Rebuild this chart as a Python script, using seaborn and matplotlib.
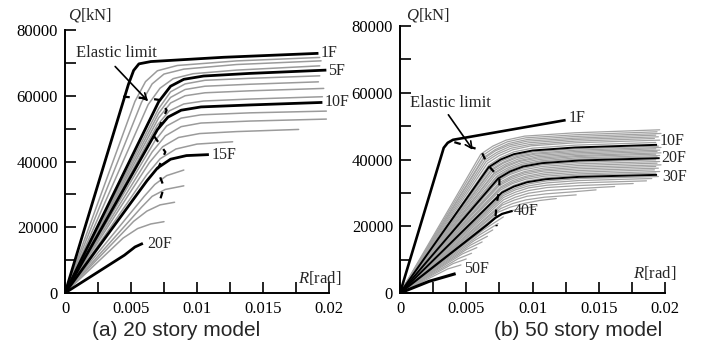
import numpy as np
import pandas as pd
import matplotlib
matplotlib.use("Agg")
import matplotlib.pyplot as plt
import seaborn as sns

# ---------------- data: 20 story model ----------------
stories_20 = list(range(1, 21))
thick_20 = [1, 5, 10, 15, 20]
R20 = [
    [0, 0.0048, 0.0052, 0.0056, 0.0065, 0.0120, 0.0192],
    [0, 0.0053, 0.0061, 0.0070, 0.0085, 0.0130, 0.0193],
    [0, 0.0058, 0.0066, 0.0075, 0.0090, 0.0130, 0.0194],
    [0, 0.0063, 0.0072, 0.0082, 0.0097, 0.0130, 0.0193],
    [0, 0.0071, 0.0080, 0.0090, 0.0105, 0.0140, 0.0198],
    [0, 0.0071, 0.0080, 0.0091, 0.0106, 0.0140, 0.0193],
    [0, 0.0071, 0.0080, 0.0091, 0.0106, 0.0140, 0.0192],
    [0, 0.0071, 0.0080, 0.0091, 0.0106, 0.0140, 0.0196],
    [0, 0.0070, 0.0079, 0.0090, 0.0105, 0.0140, 0.0195],
    [0, 0.0070, 0.0078, 0.0088, 0.0103, 0.0140, 0.0195],
    [0, 0.0068, 0.0077, 0.0088, 0.0103, 0.0140, 0.0198],
    [0, 0.0066, 0.0076, 0.0088, 0.0103, 0.0140, 0.0198],
    [0, 0.0064, 0.0074, 0.0086, 0.0102, 0.0130, 0.0177],
    [0, 0.0062, 0.0072, 0.0084, 0.0100, 0.0127],
    [0, 0.0062, 0.0070, 0.0080, 0.0092, 0.0109],
    [0, 0.0060, 0.0068, 0.0077, 0.0090],
    [0, 0.0058, 0.0066, 0.0076, 0.0090],
    [0, 0.0052, 0.0062, 0.0072, 0.0083],
    [0, 0.0044, 0.0055, 0.0065, 0.0075],
    [0, 0.0045, 0.0053, 0.0059],
]
Q20 = [
    [0, 63400, 67700, 69700, 70400, 71700, 72900],
    [0, 58300, 64300, 67600, 69200, 70600, 71650],
    [0, 58000, 63600, 66600, 68100, 69500, 70620],
    [0, 57300, 62300, 65200, 66700, 67800, 69100],
    [0, 58200, 62900, 65000, 66000, 66800, 67800],
    [0, 56100, 61200, 63600, 64700, 65300, 66060],
    [0, 54700, 59500, 61900, 62900, 63500, 64230],
    [0, 53300, 57800, 60000, 60900, 61500, 62230],
    [0, 51100, 55400, 57500, 58400, 59000, 59700],
    [0, 49700, 53500, 55600, 56600, 57200, 57970],
    [0, 46200, 50800, 53200, 54200, 54800, 55330],
    [0, 42900, 47800, 50600, 51700, 52300, 52900],
    [0, 39700, 44500, 47300, 48500, 49100, 49750],
    [0, 36000, 40800, 43800, 45300, 46000],
    [0, 34100, 38000, 40700, 41800, 42100],
    [0, 29400, 33000, 35700, 37400],
    [0, 26100, 29400, 31500, 32600],
    [0, 21800, 24900, 26800, 27600],
    [0, 16700, 19600, 21000, 21700],
    [0, 11500, 14000, 15100],
]
elastic_R20 = [0.0044, 0.0063, 0.0072, 0.0077, 0.0068, 0.0076, 0.0070, 0.0075, 0.0072]
elastic_Q20 = [59700, 59200, 58700, 55600, 47400, 42900, 37400, 32200, 28300]
labels_20 = ["1F", "5F", "10F", "15F", "20F"]
label_R20 = [0.0194, 0.0199, 0.0197, 0.0111, 0.0062]
label_Q20 = [73000, 67600, 58000, 42000, 14900]

# ---------------- data: 50 story model ----------------
stories_50 = list(range(1, 51))
thick_50 = [1, 10, 20, 30, 40, 50]
R50 = [
    [0, 0.0033, 0.0036, 0.0040, 0.0125],
    [0, 0.0061, 0.0070, 0.0080, 0.0094, 0.0132, 0.0196],
    [0, 0.0062, 0.0071, 0.0081, 0.0095, 0.0132, 0.0194],
    [0, 0.0063, 0.0072, 0.0082, 0.0096, 0.0132, 0.0197],
    [0, 0.0063, 0.0072, 0.0082, 0.0096, 0.0132, 0.0193],
    [0, 0.0064, 0.0073, 0.0083, 0.0097, 0.0132, 0.0195],
    [0, 0.0065, 0.0074, 0.0084, 0.0098, 0.0132, 0.0192],
    [0, 0.0066, 0.0075, 0.0085, 0.0099, 0.0132, 0.0196],
    [0, 0.0067, 0.0076, 0.0086, 0.0100, 0.0132, 0.0193],
    [0, 0.0067, 0.0076, 0.0086, 0.0100, 0.0132, 0.0194],
    [0, 0.0068, 0.0077, 0.0087, 0.0101, 0.0132, 0.0195],
    [0, 0.0069, 0.0078, 0.0088, 0.0102, 0.0133, 0.0197],
    [0, 0.0069, 0.0078, 0.0088, 0.0102, 0.0133, 0.0193],
    [0, 0.0070, 0.0079, 0.0089, 0.0103, 0.0133, 0.0196],
    [0, 0.0071, 0.0080, 0.0090, 0.0104, 0.0133, 0.0194],
    [0, 0.0071, 0.0080, 0.0090, 0.0104, 0.0134, 0.0197],
    [0, 0.0072, 0.0081, 0.0091, 0.0105, 0.0134, 0.0193],
    [0, 0.0073, 0.0082, 0.0092, 0.0106, 0.0134, 0.0196],
    [0, 0.0073, 0.0082, 0.0092, 0.0106, 0.0134, 0.0194],
    [0, 0.0074, 0.0083, 0.0093, 0.0107, 0.0135, 0.0196],
    [0, 0.0074, 0.0083, 0.0093, 0.0107, 0.0135, 0.0193],
    [0, 0.0074, 0.0083, 0.0093, 0.0107, 0.0135, 0.0196],
    [0, 0.0075, 0.0084, 0.0094, 0.0108, 0.0135, 0.0194],
    [0, 0.0075, 0.0084, 0.0094, 0.0108, 0.0135, 0.0197],
    [0, 0.0075, 0.0084, 0.0094, 0.0108, 0.0135, 0.0193],
    [0, 0.0076, 0.0085, 0.0095, 0.0109, 0.0135, 0.0195],
    [0, 0.0076, 0.0085, 0.0095, 0.0109, 0.0135, 0.0192],
    [0, 0.0076, 0.0085, 0.0095, 0.0109, 0.0135, 0.0196],
    [0, 0.0077, 0.0086, 0.0096, 0.0110, 0.0135, 0.0193],
    [0, 0.0077, 0.0086, 0.0096, 0.0110, 0.0135, 0.0194],
    [0, 0.0078, 0.0087, 0.0097, 0.0111, 0.0135, 0.0195],
    [0, 0.0078, 0.0087, 0.0097, 0.0111, 0.0135, 0.0190],
    [0, 0.0078, 0.0087, 0.0097, 0.0111, 0.0135, 0.0186],
    [0, 0.0078, 0.0087, 0.0097, 0.0111, 0.0135, 0.0176],
    [0, 0.0078, 0.0087, 0.0097, 0.0111, 0.0135, 0.0162],
    [0, 0.0077, 0.0086, 0.0096, 0.0110, 0.0130, 0.0148],
    [0, 0.0076, 0.0085, 0.0095, 0.0109, 0.0133],
    [0, 0.0074, 0.0083, 0.0093, 0.0105, 0.0118],
    [0, 0.0072, 0.0081, 0.0091, 0.0102],
    [0, 0.0066, 0.0072, 0.0077, 0.0085],
    [0, 0.0063, 0.0071, 0.0078],
    [0, 0.0060, 0.0074],
    [0, 0.0056, 0.0070],
    [0, 0.0053, 0.0066],
    [0, 0.0050, 0.0062],
    [0, 0.0047, 0.0058],
    [0, 0.0044, 0.0054],
    [0, 0.0040, 0.0050],
    [0, 0.0036, 0.0046],
    [0, 0.0022, 0.0042],
]
Q50 = [
    [0, 43500, 45000, 45900, 51800],
    [0, 41600, 44000, 45800, 47000, 48000, 48900],
    [0, 41100, 43500, 45300, 46500, 47400, 48300],
    [0, 40600, 43000, 44800, 46000, 46900, 47800],
    [0, 40200, 42600, 44300, 45500, 46400, 47300],
    [0, 39800, 42100, 43900, 45000, 46000, 46800],
    [0, 39400, 41700, 43400, 44500, 45500, 46300],
    [0, 38900, 41200, 42900, 44100, 45000, 45800],
    [0, 38300, 40600, 42300, 43400, 44300, 45100],
    [0, 37700, 40000, 41600, 42700, 43600, 44400],
    [0, 37400, 39600, 41200, 42300, 43200, 44000],
    [0, 37100, 39200, 40900, 41900, 42800, 43600],
    [0, 36700, 38900, 40500, 41600, 42400, 43200],
    [0, 36400, 38500, 40100, 41200, 42000, 42800],
    [0, 36000, 38200, 39700, 40800, 41600, 42400],
    [0, 35700, 37800, 39400, 40400, 41200, 42000],
    [0, 35400, 37400, 39000, 40000, 40900, 41600],
    [0, 35000, 37100, 38600, 39600, 40500, 41200],
    [0, 34700, 36700, 38200, 39300, 40100, 40800],
    [0, 34300, 36400, 37900, 38900, 39700, 40400],
    [0, 33900, 35900, 37400, 38400, 39200, 39900],
    [0, 33500, 35500, 36900, 37900, 38700, 39400],
    [0, 33100, 35000, 36400, 37400, 38200, 38900],
    [0, 32600, 34600, 36000, 36900, 37700, 38400],
    [0, 32200, 34100, 35500, 36500, 37200, 37900],
    [0, 31800, 33700, 35000, 36000, 36700, 37400],
    [0, 31400, 33200, 34600, 35500, 36200, 36900],
    [0, 30900, 32800, 34100, 35000, 35700, 36400],
    [0, 30500, 32300, 33600, 34500, 35300, 35900],
    [0, 30100, 31900, 33200, 34100, 34800, 35400],
    [0, 29700, 31400, 32700, 33600, 34300, 34900],
    [0, 29200, 30900, 32100, 33000, 33700, 34300],
    [0, 28600, 30200, 31500, 32300, 33000, 33600],
    [0, 27900, 29500, 30700, 31600, 32200, 32800],
    [0, 27100, 28700, 29900, 30700, 31300, 31900],
    [0, 26300, 27800, 29000, 29700, 30300, 30900],
    [0, 25300, 26800, 27900, 28700, 29400],
    [0, 24200, 25700, 26800, 27700, 28300],
    [0, 22900, 24300, 25300, 25900],
    [0, 20500, 22500, 23700, 24600],
    [0, 18900, 21000, 22800],
    [0, 17400, 20800],
    [0, 15700, 18900],
    [0, 14300, 17000],
    [0, 13000, 15300],
    [0, 11700, 13600],
    [0, 10300, 11900],
    [0, 8800, 10200],
    [0, 7200, 8400],
    [0, 3500, 5800],
]
elastic_R50 = [0.0041, 0.0061, 0.0066, 0.0070, 0.0075, 0.0075, 0.0073, 0.0072, 0.0073]
elastic_Q50 = [45200, 42800, 38500, 36700, 34500, 31000, 27000, 22500, 20000]
labels_50 = ["1F", "10F", "20F", "30F", "40F", "50F"]
label_R50 = [0.0127, 0.0196, 0.0197, 0.0198, 0.0086, 0.0048]
label_Q50 = [52400, 45400, 40300, 34700, 24600, 7200]

x_ticks = [0, 0.005, 0.01, 0.015, 0.02]
x_ticklabels = ["0", "0.005", "0.01", "0.015", "0.02"]
y_ticks = [0, 20000, 40000, 60000, 80000]


def long_df(R, Q, stories):
    rows = []
    for s, r, q in zip(stories, R, Q):
        for ri, qi in zip(r, q):
            rows.append((s, ri, qi))
    return pd.DataFrame(rows, columns=["story", "R", "Q"])


sns.set_theme(style="ticks")
plt.rcParams["font.family"] = ["Liberation Serif", "DejaVu Serif"]
plt.rcParams["mathtext.fontset"] = "custom"
plt.rcParams["mathtext.rm"] = "Liberation Serif"
plt.rcParams["mathtext.it"] = "Liberation Serif:italic"

W, H = 705, 345
fig = plt.figure(figsize=(W / 100, H / 100), dpi=100)
ax1 = fig.add_axes([65 / W, 52 / H, 264 / W, 263 / H])
ax2 = fig.add_axes([400 / W, 52 / H, 265 / W, 267 / H])


def style_axes(ax):
    ax.set_xlim(0, 0.02)
    ax.set_ylim(0, 80000)
    for s in ["top", "right"]:
        ax.spines[s].set_visible(False)
    for s in ["left", "bottom"]:
        ax.spines[s].set_linewidth(1.4)
        ax.spines[s].set_color("black")
    ax.set_xticks(x_ticks)
    ax.set_xticklabels(x_ticklabels)
    ax.set_xticks([0.0025, 0.0075, 0.0125, 0.0175], minor=True)
    ax.set_yticks(y_ticks)
    ax.set_yticklabels([str(v) for v in y_ticks])
    ax.set_yticks([10000, 30000, 50000, 70000], minor=True)
    ax.tick_params(which="both", direction="in", length=8, width=1.2, color="black")
    ax.tick_params(axis="x", which="major", pad=6, labelsize=12, labelcolor="black")
    ax.tick_params(axis="y", which="major", pad=5, labelsize=12, labelcolor="black")
    ax.set_xlabel("")
    ax.set_ylabel("")
    ax.set_facecolor("white")


def draw_panel(ax, R, Q, stories, thick, gray_color, gray_lw, thick_lw):
    df = long_df(R, Q, stories)
    gray = df[~df["story"].isin(thick)]
    sns.lineplot(data=gray, x="R", y="Q", units="story", estimator=None, sort=False,
                 color=gray_color, lw=gray_lw, ax=ax, legend=False)
    for s in thick:
        sub = df[df["story"] == s]
        sns.lineplot(data=sub, x="R", y="Q", estimator=None, sort=False,
                     color="black", lw=thick_lw.get(s, 1.8), ax=ax, legend=False,
                     solid_capstyle="butt")


draw_panel(ax1, R20, Q20, stories_20, thick_20, "#9b9b9b", 1.1,
           {1: 2.0, 5: 2.0, 10: 2.0, 15: 2.0, 20: 2.0})
draw_panel(ax2, R50, Q50, stories_50, thick_50, "#a3a3a3", 0.9,
           {1: 1.9, 10: 1.4, 20: 1.4, 30: 1.4, 40: 1.6, 50: 2.2})

for ax, eR, eQ in [(ax1, elastic_R20, elastic_Q20), (ax2, elastic_R50, elastic_Q50)]:
    ax.plot(eR, eQ, color="black", lw=1.6, linestyle=(0, (3, 4)), zorder=5)
    style_axes(ax)

for ax, labs, lr, lq in [(ax1, labels_20, label_R20, label_Q20),
                         (ax2, labels_50, label_R50, label_Q50)]:
    for t, r, q in zip(labs, lr, lq):
        ax.text(r, q, t, ha="left", va="center", fontsize=11.5, clip_on=False)

# elastic limit annotations
fig.text(76 / W, 1 - 53 / H, "Elastic limit", ha="left", va="center", fontsize=12)
fig.text(410 / W, 1 - 103 / H, "Elastic limit", ha="left", va="center", fontsize=12)
ax1.annotate("", xy=(0.0063, 58300), xytext=(0.0038, 68900),
             arrowprops=dict(arrowstyle="->", lw=1.2, color="black", shrinkA=0, shrinkB=0))
ax2.annotate("", xy=(0.0055, 42900), xytext=(0.00365, 53400),
             arrowprops=dict(arrowstyle="->", lw=1.2, color="black", shrinkA=0, shrinkB=0))

# axis titles
fig.text(68 / W, 1 - 15 / H, "$Q$[kN]", ha="left", va="center", fontsize=12)
fig.text(406 / W, 1 - 15 / H, "$Q$[kN]", ha="left", va="center", fontsize=12)
fig.text(298 / W, 1 - 278 / H, "$R$[rad]", ha="left", va="center", fontsize=12)
fig.text(633 / W, 1 - 273 / H, "$R$[rad]", ha="left", va="center", fontsize=12)

# captions
fig.text(176 / W, 1 - 330 / H, "(a) 20 story model", ha="center", va="center",
         fontsize=15, family=["Liberation Sans", "DejaVu Sans"])
fig.text(578 / W, 1 - 330 / H, "(b) 50 story model", ha="center", va="center",
         fontsize=15, family=["Liberation Sans", "DejaVu Sans"])

fig.savefig("out.png", dpi=100, facecolor="white")
